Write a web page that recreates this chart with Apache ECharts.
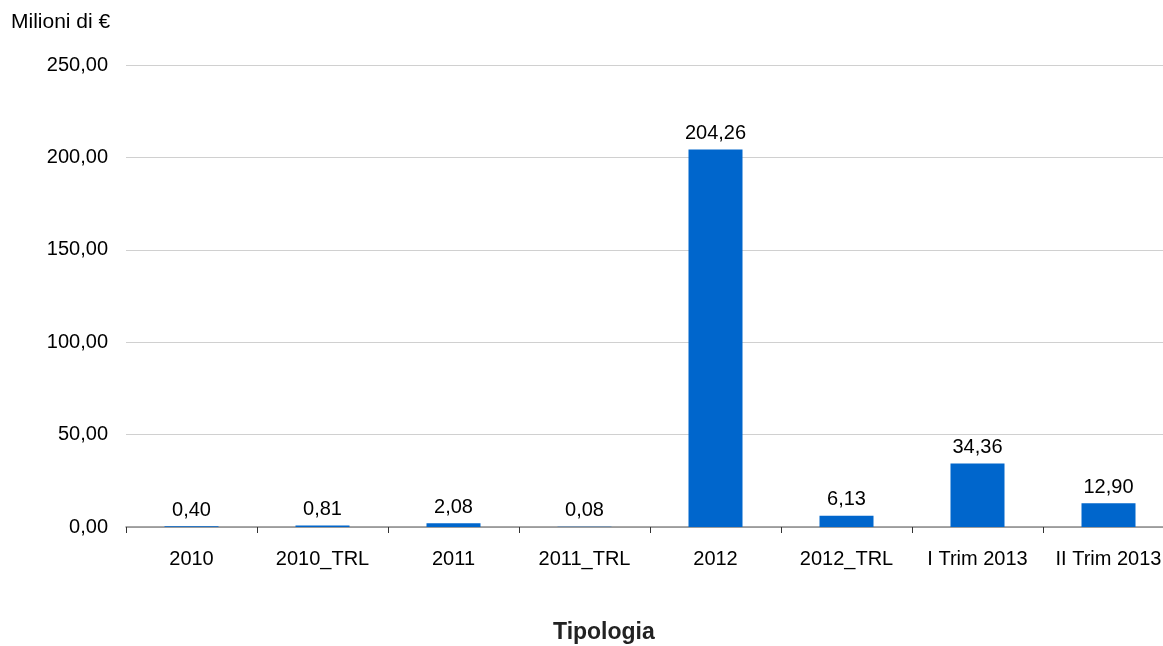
<!DOCTYPE html>
<html>
<head>
<meta charset="utf-8">
<script src="https://cdn.jsdelivr.net/npm/echarts@6/dist/echarts.min.js"></script>
<style>
  html, body { margin: 0; padding: 0; background: #ffffff; overflow: hidden; width: 1163px; height: 646px; }
  /* the plot runs slightly past the right edge of the page, so the canvas is wider than the window */
  #chart { width: 1180px; height: 646px; }
</style>
</head>
<body>
<div id="chart"></div>
<script>
// Categories and values (milioni di €)
const categories = ['2010', '2010_TRL', '2011', '2011_TRL', '2012', '2012_TRL', 'I Trim 2013', 'II Trim 2013'];
const values = [0.40, 0.81, 2.08, 0.08, 204.26, 6.13, 34.36, 12.90];
const yTicks = [0, 50, 100, 150, 200, 250];

const FONT = '"Liberation Sans", Arial, sans-serif';
const fmt = v => v.toFixed(2).replace('.', ',');

const chart = echarts.init(document.getElementById('chart'), null, { renderer: 'canvas' });

chart.setOption({
  animation: false,
  textStyle: { fontFamily: FONT },
  grid: { left: 126, width: 1048, top: 65, bottom: 119, containLabel: false },
  graphic: [
    {
      type: 'text', left: 11, top: 12,
      style: { text: 'Milioni di €', font: '21px ' + FONT, fill: '#000' }
    },
    {
      type: 'text', left: 553, top: 621,
      style: { text: 'Tipologia', font: 'bold 23px ' + FONT, fill: '#222' }
    }
  ],
  xAxis: {
    type: 'category',
    data: categories,
    axisLine: { show: true, lineStyle: { color: '#8a8a8a', width: 1.5 } },
    axisTick: { show: true, alignWithLabel: false, length: 6, lineStyle: { color: '#333' } },
    axisLabel: { color: '#000', fontSize: 20, margin: 22, fontFamily: FONT, interval: 0 }
  },
  yAxis: {
    type: 'value',
    min: yTicks[0],
    max: yTicks[yTicks.length - 1],
    interval: 50,
    axisLine: { show: false },
    axisTick: { show: false },
    splitLine: { lineStyle: { color: '#d0d0d0', width: 1 } },
    axisLabel: { color: '#000', fontSize: 20, margin: 18, fontFamily: FONT, formatter: v => fmt(v) }
  },
  series: [{
    type: 'bar',
    data: values,
    barWidth: 54,
    itemStyle: { color: '#0066cc' },
    label: {
      show: true,
      position: 'top',
      distance: 6,
      color: '#000',
      fontSize: 20,
      fontFamily: FONT,
      formatter: p => fmt(p.value)
    }
  }]
});
</script>
</body>
</html>
